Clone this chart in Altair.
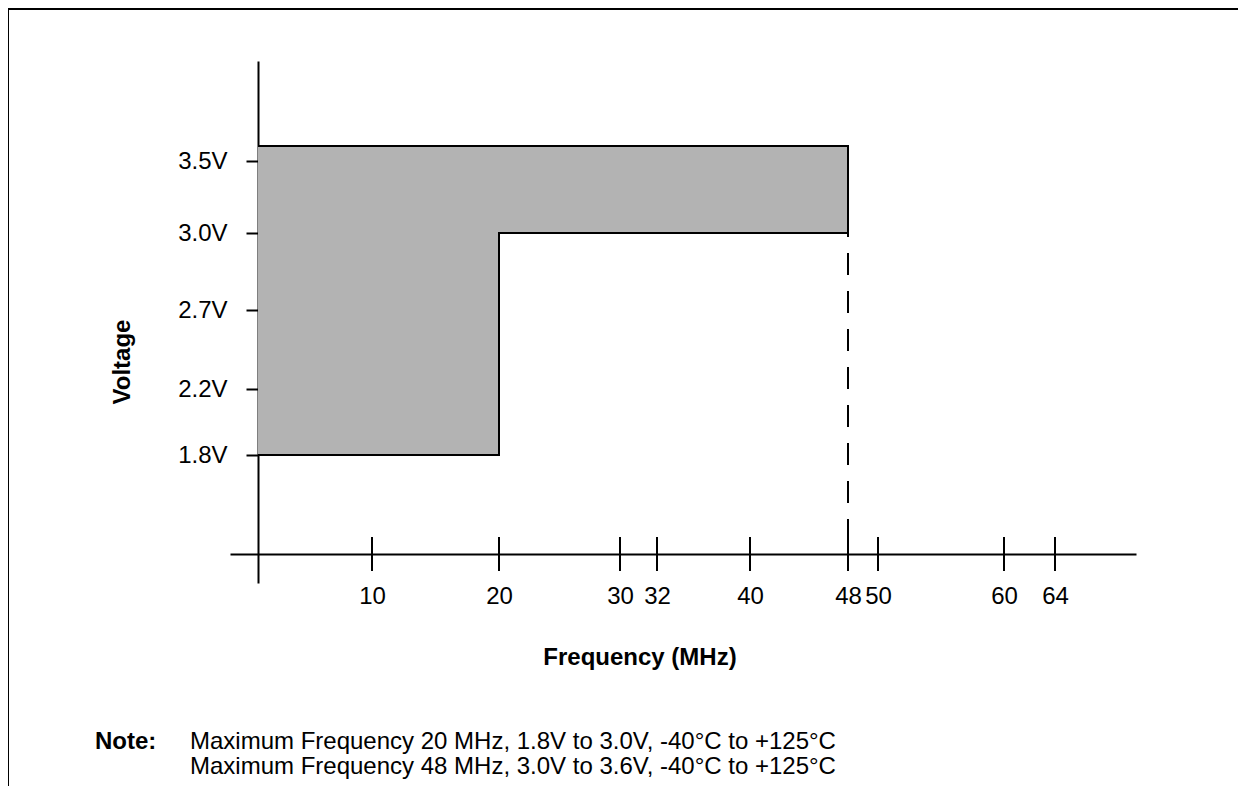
import altair as alt
import pandas as pd

# ---- data ----
freq_ticks = [10, 20, 30, 32, 40, 48, 50, 60, 64]          # MHz tick labels
volt_ticks = [1.8, 2.2, 2.7, 3.0, 3.5]                      # V tick labels

# shaded operating region (two blocks)
block_f0 = [0, 20]
block_f1 = [20, 48]
block_v0 = [1.8, 3.0]
block_v1 = [3.6, 3.6]

# outline of the operating region
outline_f = [0, 48, 48, 20, 20, 0]
outline_v = [3.6, 3.6, 3.0, 3.0, 1.8, 1.8]

# dashed limit at 48 MHz, from 3.0 V down to the frequency axis
limit_f = [48]
limit_v_top = [3.0]
axis_v = 1.4        # voltage level at which the frequency axis is drawn

# schematic (non-linear) axis breakpoints
x_domain = [-2, 0, 10, 20, 30, 32, 40, 48, 50, 60, 64, 70]
y_domain = [1.2, 1.4, 1.8, 2.2, 2.7, 3.0, 3.5, 3.6, 4.0]

x_label = "Frequency (MHz)"
y_label = "Voltage"
note_head = "Note:"
note_lines = [
    "Maximum Frequency 20 MHz, 1.8V to 3.0V, -40°C to +125°C",
    "Maximum Frequency 48 MHz, 3.0V to 3.6V, -40°C to +125°C",
]

# ---- layout ----
W, H = 1230, 778
FONT = "Liberation Sans"
x_range = [222, 250, 364, 491, 612, 649, 742, 840, 870, 996, 1047, 1128]
y_range = [575, 546, 447, 381, 302, 225, 153, 138, 53]

xs = alt.Scale(domain=x_domain, range=x_range, nice=False, zero=False)
ys = alt.Scale(domain=y_domain, range=y_range, nice=False, zero=False)

x_axis = alt.Axis(values=freq_ticks, ticks=False, tickSize=0, domain=True,
                  domainColor="black", domainWidth=2, grid=False, title="",
                  labelExpr="datum.value == 48 ? '48\u00a0' : datum.label",
                  labelFont=FONT, labelFontSize=24, labelColor="black",
                  labelBaseline="alphabetic", labelPadding=49, labelFlush=False,
                  labelOverlap=False, offset=-(H - 546))
y_axis = alt.Axis(values=volt_ticks, ticks=True, tickSize=12, tickWidth=2,
                  tickColor="black", domain=True, domainColor="black",
                  domainWidth=2, grid=False, title="",
                  labelExpr="format(datum.value, '.1f') + 'V'",
                  labelFont=FONT, labelFontSize=24, labelColor="black",
                  labelPadding=19, labelOverlap=False, labelFlush=False,
                  offset=-250)

blocks = pd.DataFrame({"f0": block_f0, "f1": block_f1, "v0": block_v0, "v1": block_v1})
outline = pd.DataFrame({"f": outline_f, "v": outline_v, "o": list(range(len(outline_f)))})
limit = pd.DataFrame({"f": limit_f, "v": limit_v_top, "vb": [axis_v]})
ticks = pd.DataFrame({"f": freq_ticks, "v": [axis_v] * len(freq_ticks)})


def X(field):
    return alt.X(field, scale=xs, axis=x_axis)


def Y(field):
    return alt.Y(field, scale=ys, axis=y_axis)


area = alt.Chart(blocks).mark_rect(color="#b3b3b3").encode(
    x=X("f0:Q"), x2="f1:Q", y=Y("v0:Q"), y2="v1:Q",
)

edge = alt.Chart(outline).mark_line(color="black", strokeWidth=2).encode(
    x=X("f:Q"), y=Y("v:Q"), order="o:Q",
)

dash = alt.Chart(limit).mark_rule(color="black", strokeWidth=2,
                                  strokeDash=[22, 16], strokeDashOffset=18).encode(
    x=X("f:Q"), y=Y("v:Q"), y2="vb:Q",
)

xticks = alt.Chart(ticks).mark_tick(orient="vertical", size=34, thickness=2,
                                    color="black", opacity=1).encode(
    x=X("f:Q"), y=Y("v:Q"),
)


def label(text, x, y, bold=False, angle=None, align="left"):
    props = dict(font=FONT, fontSize=24, align=align, baseline="middle",
                 color="black")
    if bold:
        props["fontWeight"] = "bold"
    if angle is not None:
        props["angle"] = angle
    return alt.Chart(pd.DataFrame({"t": [text]})).mark_text(**props).encode(
        text="t:N", x=alt.value(x), y=alt.value(y))


ytitle = label(y_label, 115, 354, bold=True, angle=270, align="center")
xtitle = label(x_label, 632, 650, bold=True, align="center")
nhead = label(note_head, 87, 734, bold=True)
nbody1 = label(note_lines[0], 182, 734)
nbody2 = label(note_lines[1], 182, 759)

frame_top = alt.Chart(pd.DataFrame({"k": [0]})).mark_rule(color="black", strokeWidth=2).encode(
    x=alt.value(0), x2=alt.value(W), y=alt.value(1))
frame_left = alt.Chart(pd.DataFrame({"k": [0]})).mark_rule(color="black", strokeWidth=2).encode(
    x=alt.value(0), y=alt.value(0), y2=alt.value(H))

chart = alt.layer(
    area, edge, dash, xticks, ytitle, xtitle, nhead, nbody1, nbody2,
    frame_top, frame_left
).properties(
    width=W, height=H, padding=0, background="white",
    autosize=alt.AutoSizeParams(type="none"),
).configure_view(strokeWidth=0)

chart.save("out.html", embed_options={"renderer": "svg", "actions": False})
